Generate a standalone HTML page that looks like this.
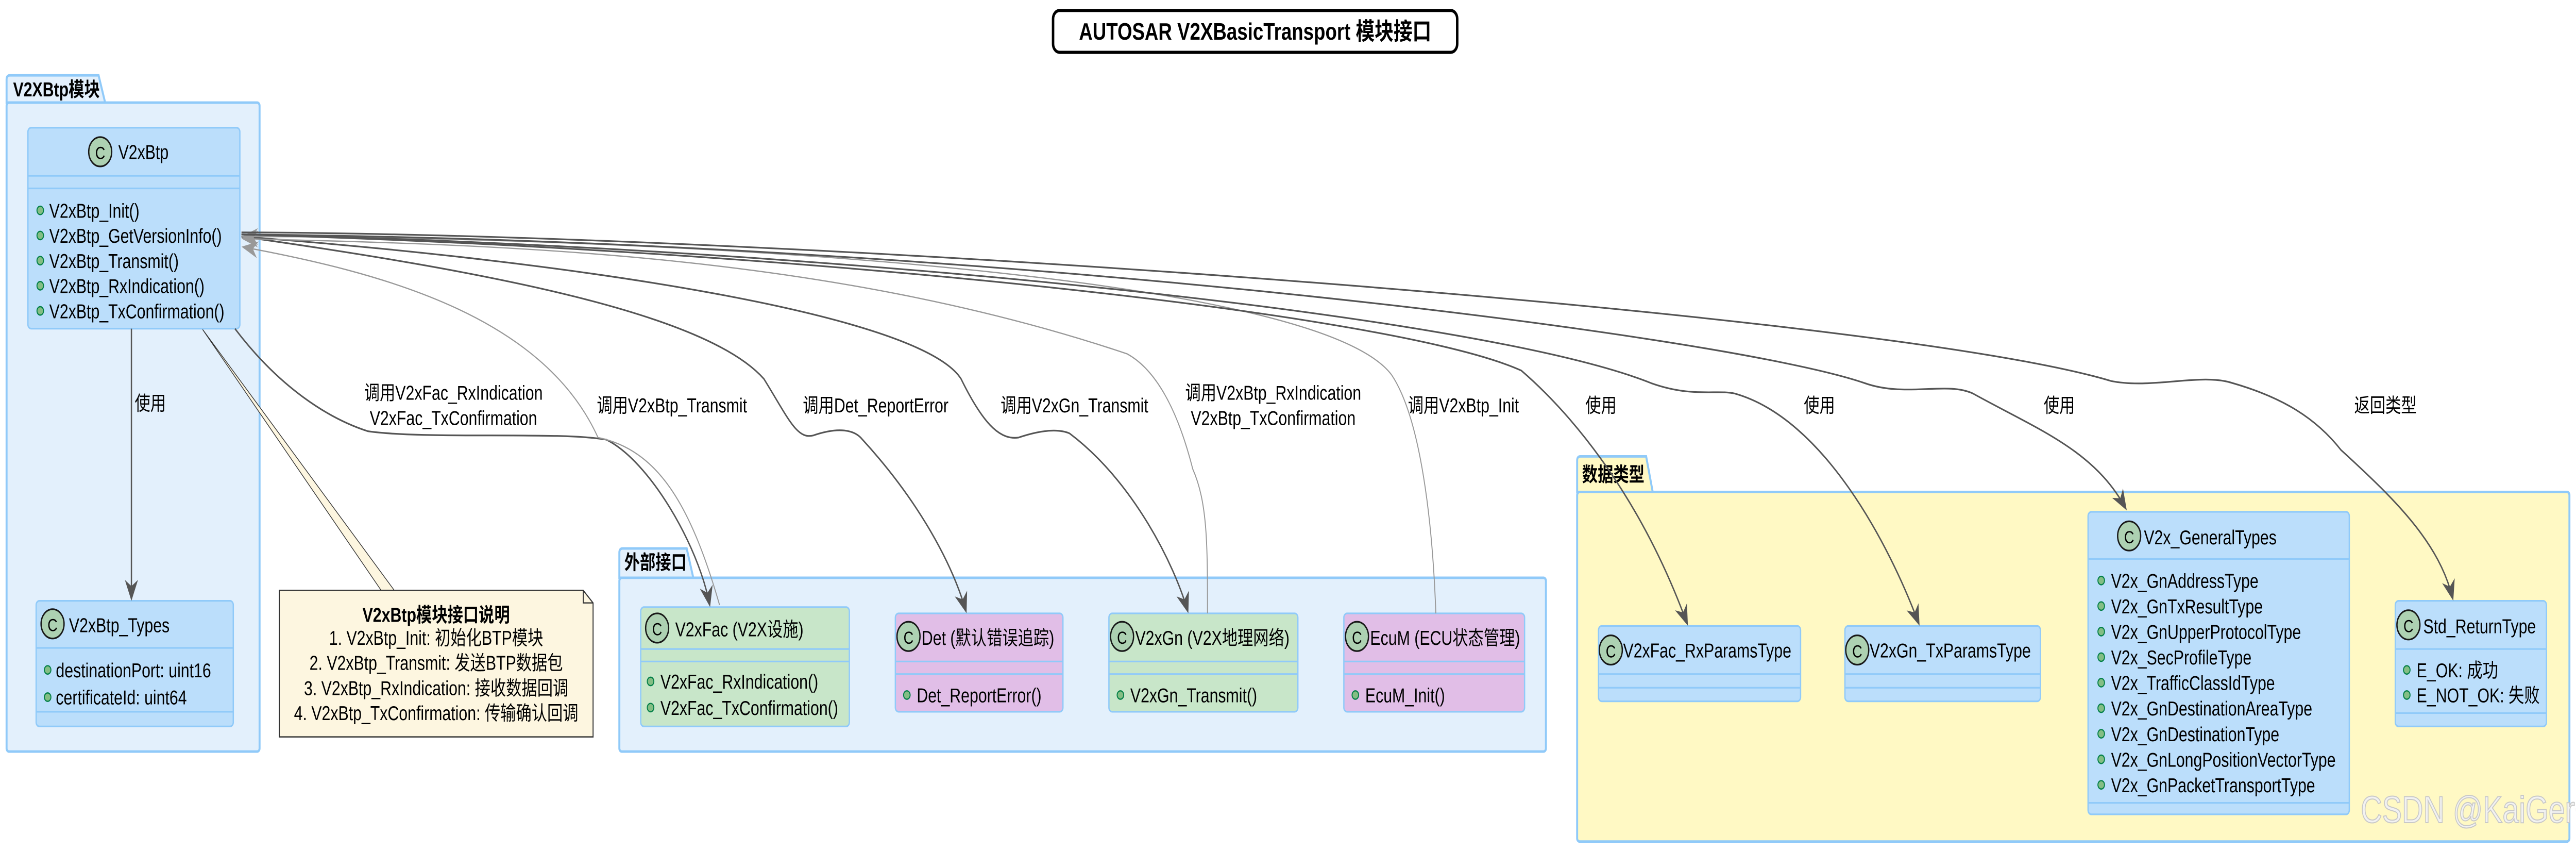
<!DOCTYPE html>
<html><head><meta charset="utf-8"><style>
html,body{margin:0;padding:0;background:#fff;width:100vw;height:100vh;overflow:hidden;}
svg{display:block;position:absolute;left:0;top:0;width:100vw;height:100vh;}
text{font-family:"Liberation Sans","Noto Sans CJK SC",sans-serif;font-size:9.5px;fill:#000;}
.b{font-weight:bold;}
.pk{fill:#e3f0fc;stroke:#90caf9;stroke-width:1.2;}
.pky{fill:#fff9c4;stroke:#90caf9;stroke-width:1.2;}
.cb{fill:#bbdefb;stroke:#90caf9;stroke-width:0.8;}
.cg{fill:#c8e6c9;stroke:#90caf9;stroke-width:0.8;}
.cp{fill:#e1bee7;stroke:#90caf9;stroke-width:0.8;}
.ln{stroke:#90caf9;stroke-width:0.8;}
.ic{fill:#add1b2;stroke:#181818;stroke-width:0.8;}
.dot{fill:#84be84;stroke:#038048;stroke-width:0.6;}
.e{fill:none;stroke:#555;stroke-width:0.8;}
.g{fill:none;stroke:#999;stroke-width:0.6;}
</style></head><body>
<svg viewBox="0 0 1568 406.5" preserveAspectRatio="none" xmlns="http://www.w3.org/2000/svg">
<defs>
<marker id="ad" markerUnits="userSpaceOnUse" markerWidth="10" markerHeight="10" viewBox="0 0 10 10" refX="9" refY="5" orient="auto"><path d="M0,1 L10,5 L0,9 L3,5 z" fill="#555"/></marker>
<marker id="ag" markerUnits="userSpaceOnUse" markerWidth="10" markerHeight="10" viewBox="0 0 10 10" refX="9" refY="5" orient="auto"><path d="M0,1 L10,5 L0,9 L3,5 z" fill="#999"/></marker>
</defs>
<!-- Title -->
<rect x="641" y="5" width="246" height="20" rx="4" fill="#fff" stroke="#000" stroke-width="1.5"/>
<text x="764" y="19" text-anchor="middle" class="b" style="font-size:11.5px">AUTOSAR V2XBasicTransport 模块接口</text>

<!-- Packages -->
<path class="pk" d="M4,49 L4,38 Q4,36 6,36 L60,36 L64,49 Z"/>
<rect class="pk" x="4" y="49" width="154" height="310" rx="1.5"/>
<text x="8" y="46" class="b">V2XBtp模块</text>

<path class="pk" d="M377,276 L377,264 Q377,262 379,262 L418,262 L422,276 Z"/>
<rect class="pk" x="377" y="276" width="564" height="83" rx="1.5"/>
<text x="380" y="272" class="b">外部接口</text>

<path class="pky" d="M960,235 L960,220 Q960,218 962,218 L1002,218 L1006,235 Z"/>
<rect class="pky" x="960" y="235" width="604" height="167" rx="1.5"/>
<text x="963" y="230" class="b">数据类型</text>

<!-- Note -->
<path d="M123,157 L232,282 L240,282 Z" fill="#fdf6e0" stroke="#333" stroke-width="0.4"/>
<path d="M170,282 L355,282 L361,288 L361,352 L170,352 Z" fill="#fdf6e0" stroke="#333" stroke-width="0.6"/>
<path d="M355,282 L355,288 L361,288" fill="none" stroke="#333" stroke-width="0.6"/>
<text x="265.5" y="297" text-anchor="middle" class="b">V2xBtp模块接口说明</text>
<text x="265.5" y="308" text-anchor="middle">1. V2xBtp_Init: 初始化BTP模块</text>
<text x="265.5" y="320" text-anchor="middle">2. V2xBtp_Transmit: 发送BTP数据包</text>
<text x="265.5" y="332" text-anchor="middle">3. V2xBtp_RxIndication: 接收数据回调</text>
<text x="265.5" y="344" text-anchor="middle">4. V2xBtp_TxConfirmation: 传输确认回调</text>

<!-- V2xBtp -->
<rect class="cb" x="17" y="61" width="129" height="96" rx="2"/>
<line class="ln" x1="17" y1="84" x2="146" y2="84"/><line class="ln" x1="17" y1="90" x2="146" y2="90"/>
<circle class="ic" cx="61" cy="72.5" r="7"/><text x="61" y="76" text-anchor="middle" style="font-size:8.5px">C</text>
<text x="72" y="76">V2xBtp</text>
<circle class="dot" cx="24.5" cy="100.5" r="2"/><text x="30" y="104">V2xBtp_Init()</text>
<circle class="dot" cx="24.5" cy="112.5" r="2"/><text x="30" y="116">V2xBtp_GetVersionInfo()</text>
<circle class="dot" cx="24.5" cy="124.5" r="2"/><text x="30" y="128">V2xBtp_Transmit()</text>
<circle class="dot" cx="24.5" cy="136.5" r="2"/><text x="30" y="140">V2xBtp_RxIndication()</text>
<circle class="dot" cx="24.5" cy="148.5" r="2"/><text x="30" y="152">V2xBtp_TxConfirmation()</text>

<!-- V2xBtp_Types -->
<rect class="cb" x="22" y="287" width="120" height="60" rx="2"/>
<line class="ln" x1="22" y1="309.5" x2="142" y2="309.5"/><line class="ln" x1="22" y1="340" x2="142" y2="340"/>
<circle class="ic" cx="32" cy="298" r="7"/><text x="32" y="301.5" text-anchor="middle" style="font-size:8.5px">C</text>
<text x="42" y="302">V2xBtp_Types</text>
<circle class="dot" cx="29" cy="320" r="2"/><text x="34" y="323.5">destinationPort: uint16</text>
<circle class="dot" cx="29" cy="333" r="2"/><text x="34" y="336.5">certificateId: uint64</text>

<!-- V2xFac -->
<rect class="cg" x="390" y="290" width="127" height="57" rx="2"/>
<line class="ln" x1="390" y1="310" x2="517" y2="310"/><line class="ln" x1="390" y1="316" x2="517" y2="316"/>
<circle class="ic" cx="400" cy="300" r="7"/><text x="400" y="303.5" text-anchor="middle" style="font-size:8.5px">C</text>
<text x="411" y="304">V2xFac (V2X设施)</text>
<circle class="dot" cx="396" cy="325.5" r="2"/><text x="402" y="329">V2xFac_RxIndication()</text>
<circle class="dot" cx="396" cy="338" r="2"/><text x="402" y="341.5">V2xFac_TxConfirmation()</text>

<!-- Det -->
<rect class="cp" x="545" y="293" width="102" height="47" rx="2"/>
<line class="ln" x1="545" y1="316" x2="647" y2="316"/><line class="ln" x1="545" y1="322" x2="647" y2="322"/>
<circle class="ic" cx="553" cy="304" r="7"/><text x="553" y="307.5" text-anchor="middle" style="font-size:8.5px">C</text>
<text x="561" y="308">Det (默认错误追踪)</text>
<circle class="dot" cx="552" cy="332" r="2"/><text x="558" y="335.5">Det_ReportError()</text>

<!-- V2xGn -->
<rect class="cg" x="675" y="293" width="115" height="47" rx="2"/>
<line class="ln" x1="675" y1="316" x2="790" y2="316"/><line class="ln" x1="675" y1="322" x2="790" y2="322"/>
<circle class="ic" cx="683" cy="304" r="7"/><text x="683" y="307.5" text-anchor="middle" style="font-size:8.5px">C</text>
<text x="691" y="308">V2xGn (V2X地理网络)</text>
<circle class="dot" cx="682" cy="332" r="2"/><text x="688" y="335.5">V2xGn_Transmit()</text>

<!-- EcuM -->
<rect class="cp" x="818" y="293" width="110" height="47" rx="2"/>
<line class="ln" x1="818" y1="316" x2="928" y2="316"/><line class="ln" x1="818" y1="322" x2="928" y2="322"/>
<circle class="ic" cx="826" cy="304" r="7"/><text x="826" y="307.5" text-anchor="middle" style="font-size:8.5px">C</text>
<text x="834" y="308">EcuM (ECU状态管理)</text>
<circle class="dot" cx="825" cy="332" r="2"/><text x="831" y="335.5">EcuM_Init()</text>

<!-- V2xFac_RxParamsType -->
<rect class="cb" x="973" y="299" width="123" height="36" rx="2"/>
<line class="ln" x1="973" y1="322" x2="1096" y2="322"/><line class="ln" x1="973" y1="328.5" x2="1096" y2="328.5"/>
<circle class="ic" cx="980.5" cy="310.5" r="7"/><text x="980.5" y="314" text-anchor="middle" style="font-size:8.5px">C</text>
<text x="988" y="314">V2xFac_RxParamsType</text>

<!-- V2xGn_TxParamsType -->
<rect class="cb" x="1123" y="299" width="119" height="36" rx="2"/>
<line class="ln" x1="1123" y1="322" x2="1242" y2="322"/><line class="ln" x1="1123" y1="328.5" x2="1242" y2="328.5"/>
<circle class="ic" cx="1130.5" cy="310.5" r="7"/><text x="1130.5" y="314" text-anchor="middle" style="font-size:8.5px">C</text>
<text x="1138" y="314">V2xGn_TxParamsType</text>

<!-- V2x_GeneralTypes -->
<rect class="cb" x="1271" y="244.5" width="159" height="144.5" rx="2"/>
<line class="ln" x1="1271" y1="267" x2="1430" y2="267"/><line class="ln" x1="1271" y1="383.5" x2="1430" y2="383.5"/>
<circle class="ic" cx="1296" cy="256" r="7"/><text x="1296" y="259.5" text-anchor="middle" style="font-size:8.5px">C</text>
<text x="1305" y="260">V2x_GeneralTypes</text>
<circle class="dot" cx="1279" cy="277.3" r="2"/><text x="1285" y="280.8">V2x_GnAddressType</text>
<circle class="dot" cx="1279" cy="289.5" r="2"/><text x="1285" y="293">V2x_GnTxResultType</text>
<circle class="dot" cx="1279" cy="301.7" r="2"/><text x="1285" y="305.2">V2x_GnUpperProtocolType</text>
<circle class="dot" cx="1279" cy="313.9" r="2"/><text x="1285" y="317.4">V2x_SecProfileType</text>
<circle class="dot" cx="1279" cy="326.1" r="2"/><text x="1285" y="329.6">V2x_TrafficClassIdType</text>
<circle class="dot" cx="1279" cy="338.3" r="2"/><text x="1285" y="341.8">V2x_GnDestinationAreaType</text>
<circle class="dot" cx="1279" cy="350.5" r="2"/><text x="1285" y="354">V2x_GnDestinationType</text>
<circle class="dot" cx="1279" cy="362.7" r="2"/><text x="1285" y="366.2">V2x_GnLongPositionVectorType</text>
<circle class="dot" cx="1279" cy="374.9" r="2"/><text x="1285" y="378.4">V2x_GnPacketTransportType</text>

<!-- Std_ReturnType -->
<rect class="cb" x="1458" y="287" width="92" height="60" rx="2"/>
<line class="ln" x1="1458" y1="310" x2="1550" y2="310"/><line class="ln" x1="1458" y1="340.6" x2="1550" y2="340.6"/>
<circle class="ic" cx="1466" cy="298.5" r="7"/><text x="1466" y="302" text-anchor="middle" style="font-size:8.5px">C</text>
<text x="1475" y="302.5">Std_ReturnType</text>
<circle class="dot" cx="1465" cy="320" r="2"/><text x="1471" y="323.5">E_OK: 成功</text>
<circle class="dot" cx="1465" cy="332" r="2"/><text x="1471" y="335.5">E_NOT_OK: 失败</text>

<!-- Edges -->
<path class="e" d="M80,157 L80,286" marker-end="url(#ad)"/>
<text x="82" y="196">使用</text>

<path class="e" d="M143,157 C170,185 200,200 224,206 C260,210 340,206 369,210 C395,220 425,260 432,289" marker-end="url(#ad)"/>
<text x="276" y="191" text-anchor="middle">调用V2xFac_RxIndication</text>
<text x="276" y="203" text-anchor="middle">V2xFac_TxConfirmation</text>

<path class="g" d="M438,289 C420,240 400,215 364,209 C330,150 230,130 148,118" marker-end="url(#ag)"/>
<text x="409" y="197" text-anchor="middle">调用V2xBtp_Transmit</text>

<path class="e" d="M147,113 C300,130 430,150 465,181 C480,200 485,210 495,208 C510,204 520,205 525,210 C560,240 580,270 588,292" marker-end="url(#ad)"/>
<text x="533" y="197" text-anchor="middle">调用Det_ReportError</text>

<path class="e" d="M147,113 C350,125 560,150 585,181 C600,205 610,210 620,209 C635,205 645,205 651,207 C690,230 715,270 723,292" marker-end="url(#ad)"/>
<text x="654" y="197" text-anchor="middle">调用V2xGn_Transmit</text>

<path class="g" d="M735,293 C735,260 735,240 726,224 C715,190 700,175 686,169 C500,120 300,117 148,114" marker-end="url(#ag)"/>
<text x="775" y="191" text-anchor="middle">调用V2xBtp_RxIndication</text>
<text x="775" y="203" text-anchor="middle">V2xBtp_TxConfirmation</text>

<path class="g" d="M874,293 C872,250 865,200 847,179 C800,130 400,113 148,113" marker-end="url(#ag)"/>
<text x="857" y="197">调用V2xBtp_Init</text>

<path class="e" d="M147,112 C500,120 850,150 926,177 C960,200 1000,240 1027,298" marker-end="url(#ad)"/>
<text x="965" y="197">使用</text>

<path class="e" d="M147,112 C500,118 900,150 1005,183 C1030,190 1045,186 1056,188 C1110,200 1150,260 1168,298" marker-end="url(#ad)"/>
<text x="1098" y="197">使用</text>

<path class="e" d="M147,112 C600,115 1050,160 1135,183 C1160,190 1185,182 1201,188 C1240,205 1275,215 1294,243" marker-end="url(#ad)"/>
<text x="1244" y="197">使用</text>

<path class="e" d="M147,111 C500,112 1150,150 1285,182 C1310,186 1340,178 1359,183 C1390,190 1410,200 1425,215 C1460,240 1485,260 1493,286" marker-end="url(#ad)"/>
<text x="1433" y="197">返回类型</text>

<!-- watermark -->
<text x="1437" y="393" style="font-size:18px;fill:#f2f2f2;stroke:#c8c8c8;stroke-width:0.5">CSDN @KaiGer666</text>
</svg>
</body></html>
